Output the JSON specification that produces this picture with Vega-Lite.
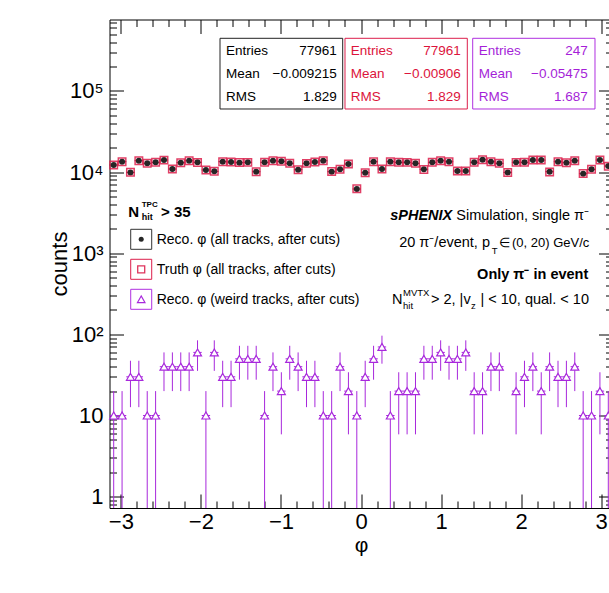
{
  "$schema": "https://vega.github.io/schema/vega-lite/v6.json",
  "autosize": {"type": "none"},
  "width": 499.5,
  "height": 488.5,
  "padding": {"left": 109.5, "top": 19.5, "right": 0, "bottom": 85},
  "background": "#ffffff",
  "config": {
    "view": {"stroke": null},
    "font": "Liberation Sans",
    "axis": {
      "domainColor": "#000000", "tickColor": "#000000", "labelColor": "#000000", "titleColor": "#000000",
      "grid": false, "labelFlush": false, "labelOverlap": false, "labelBound": false,
      "domainWidth": 1, "tickWidth": 1, "titleFontWeight": "normal",
      "labelFont": "Liberation Sans", "titleFont": "Liberation Sans"
    },
    "text": {"font": "Liberation Sans"}
  },
  "datasets": {
    "bins": [
      {"phi": -3.08923, "phi_lo": -3.14159, "phi_hi": -3.03687, "reco": 12230, "truth": 12260, "weird": 10, "weird_lo": 0, "weird_hi": 20},
      {"phi": -2.98451, "phi_lo": -3.03687, "phi_hi": -2.93215, "reco": 13450, "truth": 13430, "weird": 10, "weird_lo": 0, "weird_hi": 20},
      {"phi": -2.87979, "phi_lo": -2.93215, "phi_hi": -2.82743, "reco": 9930, "truth": 9960, "weird": 30, "weird_lo": 12.68, "weird_hi": 47.32},
      {"phi": -2.77507, "phi_lo": -2.82743, "phi_hi": -2.72271, "reco": 13830, "truth": 13810, "weird": 30, "weird_lo": 12.68, "weird_hi": 47.32},
      {"phi": -2.67035, "phi_lo": -2.72271, "phi_hi": -2.61799, "reco": 12830, "truth": 12850, "weird": 10, "weird_lo": 0, "weird_hi": 20},
      {"phi": -2.56563, "phi_lo": -2.61799, "phi_hi": -2.51327, "reco": 13200, "truth": 13200, "weird": 10, "weird_lo": 0, "weird_hi": 20},
      {"phi": -2.46091, "phi_lo": -2.51327, "phi_hi": -2.40855, "reco": 14090, "truth": 14060, "weird": 40, "weird_lo": 20, "weird_hi": 60},
      {"phi": -2.35619, "phi_lo": -2.40855, "phi_hi": -2.30383, "reco": 10920, "truth": 10950, "weird": 40, "weird_lo": 20, "weird_hi": 60},
      {"phi": -2.25147, "phi_lo": -2.30383, "phi_hi": -2.19911, "reco": 13080, "truth": 13090, "weird": 40, "weird_lo": 20, "weird_hi": 60},
      {"phi": -2.14675, "phi_lo": -2.19911, "phi_hi": -2.0944, "reco": 13830, "truth": 13840, "weird": 40, "weird_lo": 20, "weird_hi": 60},
      {"phi": -2.04204, "phi_lo": -2.0944, "phi_hi": -1.98968, "reco": 13200, "truth": 13180, "weird": 60, "weird_lo": 35.51, "weird_hi": 84.49},
      {"phi": -1.93732, "phi_lo": -1.98968, "phi_hi": -1.88496, "reco": 10620, "truth": 10640, "weird": 10, "weird_lo": 0, "weird_hi": 20},
      {"phi": -1.8326, "phi_lo": -1.88496, "phi_hi": -1.78024, "reco": 10220, "truth": 10230, "weird": 60, "weird_lo": 35.51, "weird_hi": 84.49},
      {"phi": -1.72788, "phi_lo": -1.78024, "phi_hi": -1.67552, "reco": 13450, "truth": 13460, "weird": 30, "weird_lo": 12.68, "weird_hi": 47.32},
      {"phi": -1.62316, "phi_lo": -1.67552, "phi_hi": -1.5708, "reco": 13330, "truth": 13310, "weird": 30, "weird_lo": 12.68, "weird_hi": 47.32},
      {"phi": -1.51844, "phi_lo": -1.5708, "phi_hi": -1.46608, "reco": 13080, "truth": 13100, "weird": 50, "weird_lo": 27.64, "weird_hi": 72.36},
      {"phi": -1.41372, "phi_lo": -1.46608, "phi_hi": -1.36136, "reco": 13200, "truth": 13190, "weird": 50, "weird_lo": 27.64, "weird_hi": 72.36},
      {"phi": -1.309, "phi_lo": -1.36136, "phi_hi": -1.25664, "reco": 10120, "truth": 10080, "weird": 50, "weird_lo": 27.64, "weird_hi": 72.36},
      {"phi": -1.20428, "phi_lo": -1.25664, "phi_hi": -1.15192, "reco": 13200, "truth": 13220, "weird": 10, "weird_lo": 0, "weird_hi": 20},
      {"phi": -1.09956, "phi_lo": -1.15192, "phi_hi": -1.0472, "reco": 13830, "truth": 13820, "weird": 40, "weird_lo": 20, "weird_hi": 60},
      {"phi": -0.99484, "phi_lo": -1.0472, "phi_hi": -0.94248, "reco": 13570, "truth": 13580, "weird": 20, "weird_lo": 5.86, "weird_hi": 34.14},
      {"phi": -0.89012, "phi_lo": -0.94248, "phi_hi": -0.83776, "reco": 12830, "truth": 12840, "weird": 50, "weird_lo": 27.64, "weird_hi": 72.36},
      {"phi": -0.7854, "phi_lo": -0.83776, "phi_hi": -0.73304, "reco": 10720, "truth": 10710, "weird": 40, "weird_lo": 20, "weird_hi": 60},
      {"phi": -0.68068, "phi_lo": -0.73304, "phi_hi": -0.62832, "reco": 12830, "truth": 12820, "weird": 30, "weird_lo": 12.68, "weird_hi": 47.32},
      {"phi": -0.57596, "phi_lo": -0.62832, "phi_hi": -0.5236, "reco": 13330, "truth": 13340, "weird": 30, "weird_lo": 12.68, "weird_hi": 47.32},
      {"phi": -0.47124, "phi_lo": -0.5236, "phi_hi": -0.41888, "reco": 13830, "truth": 13830, "weird": 10, "weird_lo": 0, "weird_hi": 20},
      {"phi": -0.36652, "phi_lo": -0.41888, "phi_hi": -0.31416, "reco": 10120, "truth": 10150, "weird": 10, "weird_lo": 0, "weird_hi": 20},
      {"phi": -0.2618, "phi_lo": -0.31416, "phi_hi": -0.20944, "reco": 10820, "truth": 10830, "weird": 40, "weird_lo": 20, "weird_hi": 60},
      {"phi": -0.15708, "phi_lo": -0.20944, "phi_hi": -0.10472, "reco": 12590, "truth": 12580, "weird": 20, "weird_lo": 5.86, "weird_hi": 34.14},
      {"phi": -0.05236, "phi_lo": -0.10472, "phi_hi": 0, "reco": 6190, "truth": 6230, "weird": 10, "weird_lo": 0, "weird_hi": 20},
      {"phi": 0.05236, "phi_lo": 0, "phi_hi": 0.10472, "reco": 9840, "truth": 9800, "weird": 30, "weird_lo": 12.68, "weird_hi": 47.32},
      {"phi": 0.15708, "phi_lo": 0.10472, "phi_hi": 0.20944, "reco": 13450, "truth": 13460, "weird": 50, "weird_lo": 27.64, "weird_hi": 72.36},
      {"phi": 0.2618, "phi_lo": 0.20944, "phi_hi": 0.31416, "reco": 10920, "truth": 10930, "weird": 70, "weird_lo": 43.54, "weird_hi": 96.46},
      {"phi": 0.36652, "phi_lo": 0.31416, "phi_hi": 0.41888, "reco": 13450, "truth": 13440, "weird": 10, "weird_lo": 0, "weird_hi": 20},
      {"phi": 0.47124, "phi_lo": 0.41888, "phi_hi": 0.5236, "reco": 13200, "truth": 13210, "weird": 20, "weird_lo": 5.86, "weird_hi": 34.14},
      {"phi": 0.57596, "phi_lo": 0.5236, "phi_hi": 0.62832, "reco": 13200, "truth": 13190, "weird": 20, "weird_lo": 5.86, "weird_hi": 34.14},
      {"phi": 0.68068, "phi_lo": 0.62832, "phi_hi": 0.73304, "reco": 12830, "truth": 12850, "weird": 20, "weird_lo": 5.86, "weird_hi": 34.14},
      {"phi": 0.7854, "phi_lo": 0.73304, "phi_hi": 0.83776, "reco": 10820, "truth": 10810, "weird": 50, "weird_lo": 27.64, "weird_hi": 72.36},
      {"phi": 0.89012, "phi_lo": 0.83776, "phi_hi": 0.94248, "reco": 13200, "truth": 13210, "weird": 50, "weird_lo": 27.64, "weird_hi": 72.36},
      {"phi": 0.99484, "phi_lo": 0.94248, "phi_hi": 1.0472, "reco": 13830, "truth": 13820, "weird": 60, "weird_lo": 35.51, "weird_hi": 84.49},
      {"phi": 1.09956, "phi_lo": 1.0472, "phi_hi": 1.15192, "reco": 13450, "truth": 13460, "weird": 50, "weird_lo": 27.64, "weird_hi": 72.36},
      {"phi": 1.20428, "phi_lo": 1.15192, "phi_hi": 1.25664, "reco": 10320, "truth": 10300, "weird": 50, "weird_lo": 27.64, "weird_hi": 72.36},
      {"phi": 1.309, "phi_lo": 1.25664, "phi_hi": 1.36136, "reco": 10320, "truth": 10340, "weird": 60, "weird_lo": 35.51, "weird_hi": 84.49},
      {"phi": 1.41372, "phi_lo": 1.36136, "phi_hi": 1.46608, "reco": 13200, "truth": 13200, "weird": 20, "weird_lo": 5.86, "weird_hi": 34.14},
      {"phi": 1.51844, "phi_lo": 1.46608, "phi_hi": 1.5708, "reco": 14230, "truth": 14210, "weird": 20, "weird_lo": 5.86, "weird_hi": 34.14},
      {"phi": 1.62316, "phi_lo": 1.5708, "phi_hi": 1.67552, "reco": 13450, "truth": 13450, "weird": 40, "weird_lo": 20, "weird_hi": 60},
      {"phi": 1.72788, "phi_lo": 1.67552, "phi_hi": 1.78024, "reco": 12830, "truth": 12840, "weird": 40, "weird_lo": 20, "weird_hi": 60},
      {"phi": 1.8326, "phi_lo": 1.78024, "phi_hi": 1.88496, "reco": 9930, "truth": 9880, "weird": null, "weird_lo": null, "weird_hi": null},
      {"phi": 1.93732, "phi_lo": 1.88496, "phi_hi": 1.98968, "reco": 13200, "truth": 13190, "weird": 20, "weird_lo": 5.86, "weird_hi": 34.14},
      {"phi": 2.04204, "phi_lo": 1.98968, "phi_hi": 2.0944, "reco": 13200, "truth": 13220, "weird": 30, "weird_lo": 12.68, "weird_hi": 47.32},
      {"phi": 2.14675, "phi_lo": 2.0944, "phi_hi": 2.19911, "reco": 14090, "truth": 14080, "weird": 40, "weird_lo": 20, "weird_hi": 60},
      {"phi": 2.25147, "phi_lo": 2.19911, "phi_hi": 2.30383, "reco": 14090, "truth": 14100, "weird": 20, "weird_lo": 5.86, "weird_hi": 34.14},
      {"phi": 2.35619, "phi_lo": 2.30383, "phi_hi": 2.40855, "reco": 10120, "truth": 10060, "weird": 40, "weird_lo": 20, "weird_hi": 60},
      {"phi": 2.46091, "phi_lo": 2.40855, "phi_hi": 2.51327, "reco": 13450, "truth": 13460, "weird": 30, "weird_lo": 12.68, "weird_hi": 47.32},
      {"phi": 2.56563, "phi_lo": 2.51327, "phi_hi": 2.61799, "reco": 13080, "truth": 13070, "weird": 30, "weird_lo": 12.68, "weird_hi": 47.32},
      {"phi": 2.67035, "phi_lo": 2.61799, "phi_hi": 2.72271, "reco": 13830, "truth": 13840, "weird": 40, "weird_lo": 20, "weird_hi": 60},
      {"phi": 2.77507, "phi_lo": 2.72271, "phi_hi": 2.82743, "reco": 9570, "truth": 9600, "weird": 10, "weird_lo": 0, "weird_hi": 20},
      {"phi": 2.87979, "phi_lo": 2.82743, "phi_hi": 2.93215, "reco": 10820, "truth": 10830, "weird": 10, "weird_lo": 0, "weird_hi": 20},
      {"phi": 2.98451, "phi_lo": 2.93215, "phi_hi": 3.03687, "reco": 14090, "truth": 14070, "weird": 20, "weird_lo": 5.86, "weird_hi": 34.14},
      {"phi": 3.08923, "phi_lo": 3.03687, "phi_hi": 3.14159, "reco": 11890, "truth": 11850, "weird": 10, "weird_lo": 0, "weird_hi": 20}
    ]
  },
  "resolve": {"axis": {"x": "independent", "y": "independent"}},
  "layer": [
    {
      "data": {"name": "bins"},
      "mark": {"type": "rule", "color": "#a828dc", "strokeWidth": 1},
      "encoding": {
        "x": {"field": "phi", "type": "quantitative",
          "scale": {"domain": [-3.14159265, 3.14159265], "range": [0, 503], "nice": false, "zero": false},
          "axis": {"orient": "bottom", "values": [-3, -2, -1, 0, 1, 2, 3], "tickSize": -14, "labelFontSize": 22, "labelPadding": 17,
            "title": "φ", "titleFontSize": 21, "titleX": 251.5, "titleY": 43, "titleBaseline": "alphabetic", "titleAlign": "center"}},
        "y": {"field": "weird_hi", "type": "quantitative",
          "scale": {"type": "log", "domain": [0.7247, 760800], "nice": false, "clamp": true},
          "axis": {"orient": "left", "values": [1, 10, 100, 1000, 10000, 100000], "tickSize": -14, "labelFontSize": 22, "labelPadding": 20.5,
            "labelExpr": "datum.value == 1 ? '1' : datum.value == 10 ? '10' : datum.value == 100 ? '10²' : datum.value == 1000 ? '10³' : datum.value == 10000 ? '10⁴' : '10⁵'",
            "title": "counts", "titleFontSize": 22, "titleX": -43.5, "titleY": 244, "titleAngle": -90, "titleBaseline": "alphabetic", "titleAlign": "center"}},
        "y2": {"field": "weird_lo"}
      }
    },
    {
      "data": {"name": "bins"},
      "mark": {"type": "rule", "color": "#a828dc", "strokeWidth": 1},
      "encoding": {
        "x": {"field": "phi_lo", "type": "quantitative",
          "scale": {"domain": [-3.14159265, 3.14159265], "range": [0, 503], "nice": false, "zero": false},
          "axis": {"orient": "bottom", "values": [-2.8, -2.6, -2.4, -2.2, -1.8, -1.6, -1.4, -1.2, -0.8, -0.6, -0.4, -0.2, 0.2, 0.4, 0.6, 0.8, 1.2, 1.4, 1.6, 1.8, 2.2, 2.4, 2.6, 2.8],
            "tickSize": -7, "labels": false, "domain": false, "title": null}},
        "x2": {"field": "phi_hi"},
        "y": {"field": "weird", "type": "quantitative",
          "scale": {"type": "log", "domain": [0.7247, 760800], "nice": false, "clamp": true},
          "axis": {"orient": "left", "values": [0.8, 0.9, 2, 3, 4, 5, 6, 7, 8, 9, 20, 30, 40, 50, 60, 70, 80, 90, 200, 300, 400, 500, 600, 700, 800, 900, 2000, 3000, 4000, 5000, 6000, 7000, 8000, 9000, 20000, 30000, 40000, 50000, 60000, 70000, 80000, 90000, 200000, 300000, 400000, 500000, 600000, 700000],
            "tickSize": -7, "labels": false, "domain": false, "title": null}}
      }
    },
    {
      "data": {"name": "bins"},
      "mark": {"type": "point", "shape": "triangle-up", "size": 64, "filled": true, "fill": "#ffffff", "fillOpacity": 1, "stroke": "#a828dc", "strokeWidth": 1.2, "opacity": 1},
      "encoding": {
        "x": {"field": "phi", "type": "quantitative", "axis": null,
          "scale": {"domain": [-3.14159265, 3.14159265], "range": [0, 503], "nice": false, "zero": false}},
        "y": {"field": "weird", "type": "quantitative", "axis": null,
          "scale": {"type": "log", "domain": [0.7247, 760800], "nice": false, "clamp": true}}
      }
    },
    {
      "data": {"name": "bins"},
      "mark": {"type": "rule", "color": "#222222", "strokeWidth": 1},
      "encoding": {
        "x": {"field": "phi_lo", "type": "quantitative", "axis": null,
          "scale": {"domain": [-3.14159265, 3.14159265], "range": [0, 503], "nice": false, "zero": false}},
        "x2": {"field": "phi_hi"},
        "y": {"field": "reco", "type": "quantitative", "axis": null,
          "scale": {"type": "log", "domain": [0.7247, 760800], "nice": false, "clamp": true}}
      }
    },
    {
      "data": {"name": "bins"},
      "mark": {"type": "point", "shape": "circle", "size": 36, "filled": true, "color": "#262626", "opacity": 1},
      "encoding": {
        "x": {"field": "phi", "type": "quantitative",
          "scale": {"domain": [-3.14159265, 3.14159265], "range": [0, 503], "nice": false, "zero": false},
          "axis": {"orient": "top", "values": [-3, -2, -1, 0, 1, 2, 3], "tickSize": -14, "labels": false, "title": null}},
        "y": {"field": "reco", "type": "quantitative",
          "scale": {"type": "log", "domain": [0.7247, 760800], "nice": false, "clamp": true},
          "axis": {"orient": "right", "offset": 3.5, "values": [1, 10, 100, 1000, 10000, 100000], "tickSize": -14, "labels": false, "title": null}}
      }
    },
    {
      "data": {"name": "bins"},
      "mark": {"type": "point", "shape": "square", "size": 56, "filled": false, "color": "#dc1e4b", "strokeWidth": 1.5, "opacity": 0.85},
      "encoding": {
        "x": {"field": "phi", "type": "quantitative",
          "scale": {"domain": [-3.14159265, 3.14159265], "range": [0, 503], "nice": false, "zero": false},
          "axis": {"orient": "top", "values": [-2.8, -2.6, -2.4, -2.2, -1.8, -1.6, -1.4, -1.2, -0.8, -0.6, -0.4, -0.2, 0.2, 0.4, 0.6, 0.8, 1.2, 1.4, 1.6, 1.8, 2.2, 2.4, 2.6, 2.8],
            "tickSize": -7, "labels": false, "domain": false, "title": null}},
        "y": {"field": "truth", "type": "quantitative",
          "scale": {"type": "log", "domain": [0.7247, 760800], "nice": false, "clamp": true},
          "axis": {"orient": "right", "offset": 3.5, "values": [0.8, 0.9, 2, 3, 4, 5, 6, 7, 8, 9, 20, 30, 40, 50, 60, 70, 80, 90, 200, 300, 400, 500, 600, 700, 800, 900, 2000, 3000, 4000, 5000, 6000, 7000, 8000, 9000, 20000, 30000, 40000, 50000, 60000, 70000, 80000, 90000, 200000, 300000, 400000, 500000, 600000, 700000],
            "tickSize": -7, "labels": false, "domain": false, "title": null}}
      }
    },

    {"data": {"values": [{}]}, "mark": {"type": "rect", "fill": "#ffffff", "stroke": "#222222", "strokeWidth": 1},
      "encoding": {"x": {"datum": -1.7612, "type": "quantitative", "axis": null}, "x2": {"datum": -0.2286},
        "y": {"datum": 446200, "type": "quantitative", "axis": null, "scale": {"type": "log"}}, "y2": {"datum": 60000}}},
    {"data": {"values": [{}]}, "mark": {"type": "rect", "fill": "#ffffff", "stroke": "#dc1e4b", "strokeWidth": 1},
      "encoding": {"x": {"datum": -0.1999, "type": "quantitative", "axis": null}, "x2": {"datum": 1.3278},
        "y": {"datum": 446200, "type": "quantitative", "axis": null, "scale": {"type": "log"}}, "y2": {"datum": 60000}}},
    {"data": {"values": [{}]}, "mark": {"type": "rect", "fill": "#ffffff", "stroke": "#b030e0", "strokeWidth": 1},
      "encoding": {"x": {"datum": 1.3952, "type": "quantitative", "axis": null}, "x2": {"datum": 2.9228},
        "y": {"datum": 446200, "type": "quantitative", "axis": null, "scale": {"type": "log"}}, "y2": {"datum": 60000}}},

    {"data": {"values": [{}]}, "mark": {"type": "text", "text": ["Entries", "Mean", "RMS"], "lineHeight": 23, "align": "left", "baseline": "middle", "fontSize": 13.5, "color": "#000000"},
      "encoding": {"x": {"datum": -1.6862, "type": "quantitative", "axis": null}, "y": {"datum": 313800, "type": "quantitative", "axis": null, "scale": {"type": "log"}}}},
    {"data": {"values": [{}]}, "mark": {"type": "text", "text": ["77961", "−0.009215", "1.829"], "lineHeight": 23, "align": "right", "baseline": "middle", "fontSize": 13.5, "color": "#000000"},
      "encoding": {"x": {"datum": -0.3035, "type": "quantitative", "axis": null}, "y": {"datum": 313800, "type": "quantitative", "axis": null, "scale": {"type": "log"}}}},
    {"data": {"values": [{}]}, "mark": {"type": "text", "text": ["Entries", "Mean", "RMS"], "lineHeight": 23, "align": "left", "baseline": "middle", "fontSize": 13.5, "color": "#dc143c"},
      "encoding": {"x": {"datum": -0.1287, "type": "quantitative", "axis": null}, "y": {"datum": 313800, "type": "quantitative", "axis": null, "scale": {"type": "log"}}}},
    {"data": {"values": [{}]}, "mark": {"type": "text", "text": ["77961", "−0.00906", "1.829"], "lineHeight": 23, "align": "right", "baseline": "middle", "fontSize": 13.5, "color": "#dc143c"},
      "encoding": {"x": {"datum": 1.2453, "type": "quantitative", "axis": null}, "y": {"datum": 313800, "type": "quantitative", "axis": null, "scale": {"type": "log"}}}},
    {"data": {"values": [{}]}, "mark": {"type": "text", "text": ["Entries", "Mean", "RMS"], "lineHeight": 23, "align": "left", "baseline": "middle", "fontSize": 13.5, "color": "#a51fd8"},
      "encoding": {"x": {"datum": 1.4701, "type": "quantitative", "axis": null}, "y": {"datum": 313800, "type": "quantitative", "axis": null, "scale": {"type": "log"}}}},
    {"data": {"values": [{}]}, "mark": {"type": "text", "text": ["247", "−0.05475", "1.687"], "lineHeight": 23, "align": "right", "baseline": "middle", "fontSize": 13.5, "color": "#a51fd8"},
      "encoding": {"x": {"datum": 2.8316, "type": "quantitative", "axis": null}, "y": {"datum": 313800, "type": "quantitative", "axis": null, "scale": {"type": "log"}}}},

    {"data": {"values": [{}]}, "mark": {"type": "text", "text": "N", "align": "left", "baseline": "middle", "fontSize": 15, "fontWeight": "bold", "color": "#000000"},
      "encoding": {"x": {"datum": -2.9066, "type": "quantitative", "axis": null}, "y": {"datum": 3253, "type": "quantitative", "axis": null, "scale": {"type": "log"}}}},
    {"data": {"values": [{}]}, "mark": {"type": "text", "text": "TPC", "align": "left", "baseline": "middle", "fontSize": 8, "fontWeight": "bold", "color": "#000000"},
      "encoding": {"x": {"datum": -2.7392, "type": "quantitative", "axis": null}, "y": {"datum": 3934, "type": "quantitative", "axis": null, "scale": {"type": "log"}}}},
    {"data": {"values": [{}]}, "mark": {"type": "text", "text": "hit", "align": "left", "baseline": "middle", "fontSize": 9, "fontWeight": "bold", "color": "#000000"},
      "encoding": {"x": {"datum": -2.7392, "type": "quantitative", "axis": null}, "y": {"datum": 2822, "type": "quantitative", "axis": null, "scale": {"type": "log"}}}},
    {"data": {"values": [{}]}, "mark": {"type": "text", "text": "> 35", "align": "left", "baseline": "middle", "fontSize": 15, "fontWeight": "bold", "color": "#000000"},
      "encoding": {"x": {"datum": -2.4981, "type": "quantitative", "axis": null}, "y": {"datum": 3253, "type": "quantitative", "axis": null, "scale": {"type": "log"}}}},

    {"data": {"values": [{}]}, "mark": {"type": "rect", "fill": null, "fillOpacity": 0, "stroke": "#333333", "strokeWidth": 1},
      "encoding": {"x": {"datum": -2.8766, "type": "quantitative", "axis": null}, "x2": {"datum": -2.6143},
        "y": {"datum": 1974, "type": "quantitative", "axis": null, "scale": {"type": "log"}}, "y2": {"datum": 1119}}},
    {"data": {"values": [{}]}, "mark": {"type": "rect", "fill": null, "fillOpacity": 0, "stroke": "#dc1e4b", "strokeWidth": 1},
      "encoding": {"x": {"datum": -2.8766, "type": "quantitative", "axis": null}, "x2": {"datum": -2.6143},
        "y": {"datum": 842.6, "type": "quantitative", "axis": null, "scale": {"type": "log"}}, "y2": {"datum": 477.5}}},
    {"data": {"values": [{}]}, "mark": {"type": "rect", "fill": null, "fillOpacity": 0, "stroke": "#b030e0", "strokeWidth": 1},
      "encoding": {"x": {"datum": -2.8766, "type": "quantitative", "axis": null}, "x2": {"datum": -2.6143},
        "y": {"datum": 359.6, "type": "quantitative", "axis": null, "scale": {"type": "log"}}, "y2": {"datum": 203.8}}},
    {"data": {"values": [{}]}, "mark": {"type": "point", "shape": "circle", "size": 25, "filled": true, "color": "#262626", "opacity": 1},
      "encoding": {"x": {"datum": -2.7455, "type": "quantitative", "axis": null}, "y": {"datum": 1486, "type": "quantitative", "axis": null, "scale": {"type": "log"}}}},
    {"data": {"values": [{}]}, "mark": {"type": "point", "shape": "square", "size": 49, "filled": false, "color": "#dc1e4b", "strokeWidth": 1.3, "opacity": 0.9},
      "encoding": {"x": {"datum": -2.7455, "type": "quantitative", "axis": null}, "y": {"datum": 634.2, "type": "quantitative", "axis": null, "scale": {"type": "log"}}}},
    {"data": {"values": [{}]}, "mark": {"type": "point", "shape": "triangle-up", "size": 56, "filled": false, "color": "#a828dc", "strokeWidth": 1.2, "opacity": 1},
      "encoding": {"x": {"datum": -2.7455, "type": "quantitative", "axis": null}, "y": {"datum": 270.7, "type": "quantitative", "axis": null, "scale": {"type": "log"}}}},
    {"data": {"values": [{}]}, "mark": {"type": "text", "text": "Reco. φ (all tracks, after cuts)", "align": "left", "baseline": "middle", "fontSize": 14, "color": "#000000"},
      "encoding": {"x": {"datum": -2.5518, "type": "quantitative", "axis": null}, "y": {"datum": 1457, "type": "quantitative", "axis": null, "scale": {"type": "log"}}}},
    {"data": {"values": [{}]}, "mark": {"type": "text", "text": "Truth φ (all tracks, after cuts)", "align": "left", "baseline": "middle", "fontSize": 14, "color": "#000000"},
      "encoding": {"x": {"datum": -2.5518, "type": "quantitative", "axis": null}, "y": {"datum": 622, "type": "quantitative", "axis": null, "scale": {"type": "log"}}}},
    {"data": {"values": [{}]}, "mark": {"type": "text", "text": "Reco. φ (weird tracks, after cuts)", "align": "left", "baseline": "middle", "fontSize": 14, "color": "#000000"},
      "encoding": {"x": {"datum": -2.5518, "type": "quantitative", "axis": null}, "y": {"datum": 265.4, "type": "quantitative", "axis": null, "scale": {"type": "log"}}}},

    {"data": {"values": [{}]}, "mark": {"type": "text", "text": "sPHENIX", "align": "right", "baseline": "middle", "fontSize": 14.5, "fontWeight": "bold", "fontStyle": "italic", "color": "#000000"},
      "encoding": {"x": {"datum": 1.1404, "type": "quantitative", "axis": null}, "y": {"datum": 2879, "type": "quantitative", "axis": null, "scale": {"type": "log"}}}},
    {"data": {"values": [{}]}, "mark": {"type": "text", "text": "Simulation, single π⁻", "align": "right", "baseline": "middle", "fontSize": 14.5, "color": "#000000"},
      "encoding": {"x": {"datum": 2.8479, "type": "quantitative", "axis": null}, "y": {"datum": 2879, "type": "quantitative", "axis": null, "scale": {"type": "log"}}}},
    {"data": {"values": [{}]}, "mark": {"type": "text", "text": "20 π⁻/event, p", "align": "right", "baseline": "middle", "fontSize": 14.5, "color": "#000000"},
      "encoding": {"x": {"datum": 1.6113, "type": "quantitative", "axis": null}, "y": {"datum": 1327, "type": "quantitative", "axis": null, "scale": {"type": "log"}}}},
    {"data": {"values": [{}]}, "mark": {"type": "text", "text": "T", "align": "left", "baseline": "middle", "fontSize": 9.5, "color": "#000000"},
      "encoding": {"x": {"datum": 1.6325, "type": "quantitative", "axis": null}, "y": {"datum": 1075.6, "type": "quantitative", "axis": null, "scale": {"type": "log"}}}},
    {"data": {"values": [{}]}, "mark": {"type": "text", "text": "∈", "align": "left", "baseline": "middle", "fontSize": 13, "color": "#000000"},
      "encoding": {"x": {"datum": 1.7237, "type": "quantitative", "axis": null}, "y": {"datum": 1327, "type": "quantitative", "axis": null, "scale": {"type": "log"}}}},
    {"data": {"values": [{}]}, "mark": {"type": "text", "text": "(0, 20) GeV/c", "align": "right", "baseline": "middle", "fontSize": 13, "color": "#000000"},
      "encoding": {"x": {"datum": 2.8516, "type": "quantitative", "axis": null}, "y": {"datum": 1327, "type": "quantitative", "axis": null, "scale": {"type": "log"}}}},
    {"data": {"values": [{}]}, "mark": {"type": "text", "text": "Only π⁻ in event", "align": "right", "baseline": "middle", "fontSize": 14.5, "fontWeight": "bold", "color": "#000000"},
      "encoding": {"x": {"datum": 2.8391, "type": "quantitative", "axis": null}, "y": {"datum": 539.5, "type": "quantitative", "axis": null, "scale": {"type": "log"}}}},
    {"data": {"values": [{}]}, "mark": {"type": "text", "text": "N", "align": "left", "baseline": "middle", "fontSize": 14.5, "color": "#000000"},
      "encoding": {"x": {"datum": 0.3872, "type": "quantitative", "axis": null}, "y": {"datum": 265.4, "type": "quantitative", "axis": null, "scale": {"type": "log"}}}},
    {"data": {"values": [{}]}, "mark": {"type": "text", "text": "MVTX", "align": "left", "baseline": "middle", "fontSize": 9.5, "color": "#000000"},
      "encoding": {"x": {"datum": 0.5246, "type": "quantitative", "axis": null}, "y": {"datum": 323.7, "type": "quantitative", "axis": null, "scale": {"type": "log"}}}},
    {"data": {"values": [{}]}, "mark": {"type": "text", "text": "hit", "align": "left", "baseline": "middle", "fontSize": 9.5, "color": "#000000"},
      "encoding": {"x": {"datum": 0.5246, "type": "quantitative", "axis": null}, "y": {"datum": 223.8, "type": "quantitative", "axis": null, "scale": {"type": "log"}}}},
    {"data": {"values": [{}]}, "mark": {"type": "text", "text": "> 2, |v", "align": "left", "baseline": "middle", "fontSize": 14.5, "color": "#000000"},
      "encoding": {"x": {"datum": 0.8743, "type": "quantitative", "axis": null}, "y": {"datum": 265.4, "type": "quantitative", "axis": null, "scale": {"type": "log"}}}},
    {"data": {"values": [{}]}, "mark": {"type": "text", "text": "z", "align": "left", "baseline": "middle", "fontSize": 9.5, "color": "#000000"},
      "encoding": {"x": {"datum": 1.374, "type": "quantitative", "axis": null}, "y": {"datum": 223.8, "type": "quantitative", "axis": null, "scale": {"type": "log"}}}},
    {"data": {"values": [{}]}, "mark": {"type": "text", "text": "| < 10, qual. < 10", "align": "right", "baseline": "middle", "fontSize": 14.5, "color": "#000000"},
      "encoding": {"x": {"datum": 2.8479, "type": "quantitative", "axis": null}, "y": {"datum": 265.4, "type": "quantitative", "axis": null, "scale": {"type": "log"}}}}
  ]
}
